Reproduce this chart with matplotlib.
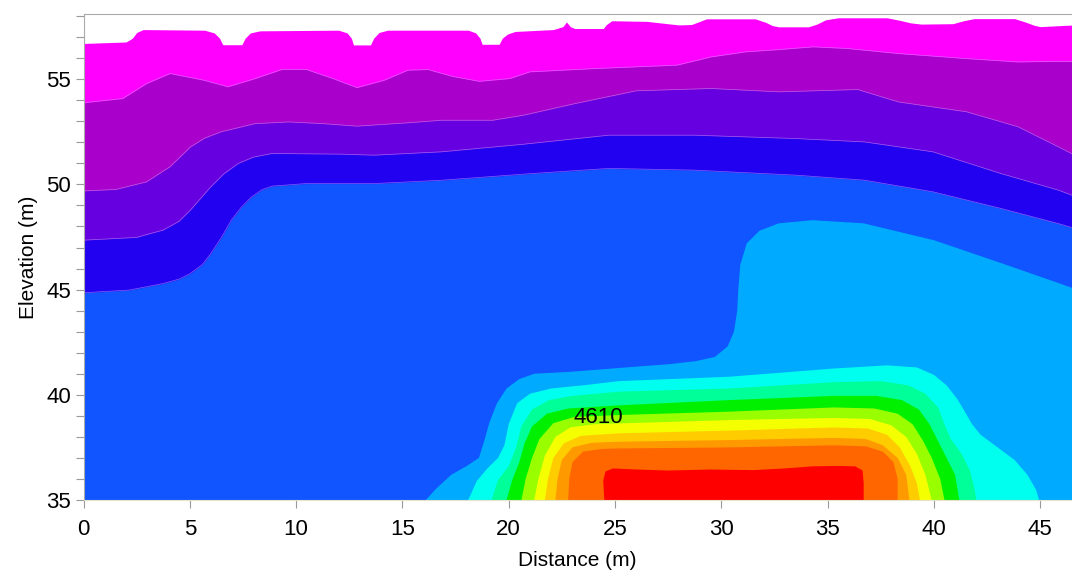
import matplotlib
matplotlib.use('Agg')
import matplotlib.pyplot as plt
from matplotlib.ticker import MultipleLocator

plt.rcParams['font.family'] = ['Liberation Sans', 'DejaVu Sans']

# ground surface (top of model)
surface_x = [0, 2.0, 2.3, 2.5, 2.8, 5.7, 6.15, 6.4, 6.55, 7.45, 7.6, 7.85, 8.3, 12.0, 12.4,
             12.6, 12.7, 13.5, 13.65, 13.9, 14.3, 18.1, 18.45, 18.65, 18.75, 19.55, 19.7, 19.95,
             20.3, 22.1, 22.55, 22.72, 22.9, 23.1, 24.45, 24.6, 24.85, 26.5, 28.0, 28.6, 29.0,
             29.3, 31.6, 32.1, 32.4, 32.7, 34.1, 34.5, 34.9, 35.5, 37.8, 38.4, 38.9, 39.4, 40.9,
             41.4, 41.9, 43.8, 44.3, 44.7, 45.0, 47.0]
surface_y = [56.7, 56.77, 56.95, 57.22, 57.36, 57.33, 57.2, 56.95, 56.64, 56.64, 56.95, 57.2,
             57.3, 57.33, 57.2, 56.95, 56.63, 56.63, 56.95, 57.22, 57.33, 57.33, 57.2, 56.95, 56.66,
             56.66, 56.95, 57.15, 57.27, 57.36, 57.5, 57.72, 57.5, 57.41, 57.41, 57.6, 57.78, 57.75,
             57.58, 57.6, 57.75, 57.87, 57.87, 57.7, 57.55, 57.49, 57.49, 57.62, 57.82, 57.92, 57.92,
             57.8, 57.68, 57.62, 57.64, 57.78, 57.88, 57.88, 57.72, 57.57, 57.5, 57.6]

# layer boundaries, top to bottom
b1_x = [0, 1.84, 2.96, 4.07, 5.67, 6.79, 8.07, 9.35, 10.46, 11.74, 12.86, 14.14, 15.26, 16.21,
        17.33, 18.61, 20.05, 21.0, 23.91, 27.92, 29.52, 31.13, 32.73, 34.33, 35.94, 38.34, 41.55,
        43.96, 45.85, 47.0]
b1_y = [53.88, 54.08, 54.79, 55.27, 54.95, 54.64, 55.03, 55.47, 55.47, 55.03, 54.6, 54.95, 55.43,
        55.46, 55.14, 54.9, 55.03, 55.35, 55.5, 55.67, 56.06, 56.3, 56.41, 56.54, 56.46, 56.22,
        55.98, 55.82, 55.85, 55.85]

b2_x = [0, 1.52, 2.96, 4.07, 5.03, 5.7, 6.47, 8.07, 9.66, 11.26, 12.86, 15.26, 16.85, 19.25, 20.7,
        23.11, 26.0, 29.52, 32.73, 36.42, 38.34, 41.55, 43.96, 45.85, 47.0]
b2_y = [49.69, 49.76, 50.12, 50.84, 51.78, 52.2, 52.5, 52.89, 52.97, 52.89, 52.77, 52.93, 53.05,
        53.05, 53.29, 53.84, 54.45, 54.56, 54.4, 54.51, 53.92, 53.45, 52.74, 51.79, 51.2]

b3_x = [0, 2.48, 3.75, 4.5, 5.03, 5.99, 6.6, 7.27, 8.0, 8.87, 12.06, 13.66, 16.85, 20.7, 24.71,
        28.72, 33.53, 36.74, 39.95, 43.15, 45.85, 47.0]
b3_y = [47.35, 47.48, 47.83, 48.25, 48.78, 49.89, 50.5, 50.99, 51.3, 51.47, 51.44, 51.39, 51.55,
        51.91, 52.34, 52.34, 52.18, 52.02, 51.55, 50.52, 49.73, 49.3]

b4_x = [0, 2.16, 3.75, 4.5, 5.03, 5.6, 5.99, 6.5, 6.95, 7.45, 7.91, 8.4, 8.87, 10.46, 13.66,
        16.85, 21.13, 24.71, 28.72, 33.53, 36.74, 39.95, 43.15, 45.85, 47.0]
b4_y = [44.85, 44.98, 45.29, 45.5, 45.77, 46.2, 46.72, 47.5, 48.3, 48.95, 49.41, 49.75, 49.92,
        50.04, 50.04, 50.2, 50.52, 50.76, 50.68, 50.44, 50.2, 49.65, 48.86, 48.14, 47.8]

# closed contours of the deep high-velocity zone, outer to inner
lblue_x = [16.1, 16.6, 17.3, 18.0, 18.6, 18.85, 19.1, 19.45, 19.9, 20.5, 21.2, 23.0, 25.5, 27.5,
           28.8, 29.7, 30.3, 30.6, 30.75, 30.8, 30.9, 31.2, 31.8, 32.7, 34.3, 36.7, 40.0, 43.2,
           45.9, 47.0, 47.0]
lblue_y = [35.0, 35.55, 36.2, 36.6, 37.0, 37.8, 38.7, 39.6, 40.3, 40.75, 41.0, 41.1, 41.3, 41.45,
           41.6, 41.8, 42.3, 43.0, 44.0, 45.0, 46.2, 47.2, 47.8, 48.15, 48.3, 48.15, 47.35, 46.25,
           45.3, 44.9, 35.0]

cyan_x = [18.1, 18.5, 19.0, 19.5, 19.8, 20.0, 20.4, 21.0, 22.0, 23.5, 25.2, 30.4, 35.3, 37.8,
          39.2, 40.0, 40.6, 41.1, 41.4, 41.8, 42.2, 43.0, 43.8, 44.4, 44.8, 44.95]
cyan_y = [35.0, 35.9, 36.5, 37.0, 37.6, 38.6, 39.6, 40.05, 40.3, 40.45, 40.65, 40.86, 41.25, 41.4,
          41.3, 40.95, 40.45, 39.8, 39.3, 38.6, 38.1, 37.5, 36.9, 36.2, 35.5, 35.0]

mint_x = [19.2, 19.5, 20.0, 20.35, 20.6, 21.1, 21.9, 23.0, 25.2, 30.4, 35.3, 37.5, 38.8, 39.6,
          40.2, 40.5, 40.8, 41.3, 41.7, 41.9, 42.0]
mint_y = [35.0, 35.95, 36.6, 37.5, 38.5, 39.3, 39.75, 39.95, 40.15, 40.3, 40.6, 40.65, 40.45,
          40.05, 39.4, 38.6, 37.9, 37.2, 36.4, 35.6, 35.0]

green_x = [19.9, 20.15, 20.5, 20.75, 21.1, 21.8, 22.8, 25.2, 30.4, 35.3, 37.3, 38.5, 39.3, 39.8,
           40.2, 40.6, 41.0, 41.2]
green_y = [35.0, 35.9, 36.8, 37.7, 38.5, 39.1, 39.35, 39.5, 39.75, 39.95, 39.95, 39.75, 39.3,
           38.6, 37.8, 37.0, 36.2, 35.0]

lime_x = [20.6, 20.8, 21.1, 21.45, 22.1, 23.1, 25.2, 30.4, 35.3, 37.2, 38.3, 39.0, 39.5, 39.9,
          40.3, 40.5]
lime_y = [35.0, 36.0, 37.0, 37.9, 38.65, 38.95, 39.04, 39.2, 39.4, 39.35, 39.1, 38.6, 37.8, 37.0,
          36.0, 35.0]

yellow_x = [21.2, 21.4, 21.7, 22.2, 22.9, 24.0, 25.2, 30.4, 35.3, 37.0, 38.0, 38.7, 39.2, 39.6, 39.9]
yellow_y = [35.0, 36.0, 37.1, 38.0, 38.45, 38.6, 38.64, 38.8, 38.9, 38.85, 38.55, 38.0, 37.2, 36.2,
            35.0]

gold_x = [21.7, 21.85, 22.1, 22.6, 23.4, 25.2, 30.4, 35.3, 36.9, 37.8, 38.4, 38.9, 39.2, 39.35]
gold_y = [35.0, 36.0, 37.0, 37.7, 38.05, 38.17, 38.3, 38.45, 38.4, 38.1, 37.5, 36.6, 35.8, 35.0]

orange_x = [22.2, 22.3, 22.5, 23.0, 23.9, 25.2, 30.4, 35.3, 36.8, 37.6, 38.3, 38.7, 38.85]
orange_y = [35.0, 36.0, 36.9, 37.5, 37.72, 37.77, 37.85, 37.95, 37.9, 37.6, 37.0, 36.2, 35.0]

ored_x = [22.8, 22.85, 23.0, 23.5, 24.4, 25.2, 30.4, 35.3, 36.8, 37.6, 38.1, 38.3, 38.3]
ored_y = [35.0, 36.0, 36.8, 37.3, 37.43, 37.45, 37.5, 37.6, 37.55, 37.3, 36.8, 36.0, 35.0]

red_x = [24.5, 24.45, 24.55, 24.9, 26.0, 27.5, 29.5, 31.5, 33.0, 34.3, 35.5, 36.3, 36.65, 36.7, 36.7]
red_y = [35.0, 35.9, 36.35, 36.5, 36.45, 36.4, 36.45, 36.42, 36.5, 36.6, 36.62, 36.6, 36.4, 35.8,
         35.0]

label_text = '4610'
label_x, label_y = 24.2, 38.9

fig = plt.figure(figsize=(10.72, 5.73), dpi=100)
ax = fig.add_axes([83.5 / 1072, 73 / 573, 988.5 / 1072, 486 / 573])

base = 35
ax.fill_between(surface_x, base, surface_y, color='#ff00ff', lw=0)
ax.fill_between(b1_x, base, b1_y, color='#aa00cc', lw=0)
ax.fill_between(b2_x, base, b2_y, color='#6600e0', lw=0)
ax.fill_between(b3_x, base, b3_y, color='#2200f0', lw=0)
ax.fill_between(b4_x, base, b4_y, color='#1055ff', lw=0)
# faint seams between the upper layers
for bx, by in [(b1_x, b1_y), (b2_x, b2_y), (b3_x, b3_y), (b4_x, b4_y)]:
    ax.plot(bx, by, color='#c8a0ff', lw=0.5, alpha=0.6)

zones = [(lblue_x, lblue_y, '#00aaff'), (cyan_x, cyan_y, '#00ffee'), (mint_x, mint_y, '#00ff99'),
         (green_x, green_y, '#00f000'), (lime_x, lime_y, '#99ff00'), (yellow_x, yellow_y, '#f4ff00'),
         (gold_x, gold_y, '#ffcc00'), (orange_x, orange_y, '#ff9900'), (ored_x, ored_y, '#ff6600'),
         (red_x, red_y, '#ff0000')]
for zx, zy, c in zones:
    ax.fill(zx, zy, color=c, lw=0)

ax.text(label_x, label_y, label_text, fontsize=16, ha='center', va='center', color='black')

ax.set_xlim(0, 46.5)
ax.set_ylim(35, 58.1)
ax.xaxis.set_major_locator(MultipleLocator(5))
ax.yaxis.set_major_locator(MultipleLocator(5))
ax.yaxis.set_minor_locator(MultipleLocator(1))
ax.tick_params(axis='both', which='both', direction='out', length=6, width=0.8,
               color='#999999', labelsize=16)
ax.tick_params(axis='x', pad=8)
ax.tick_params(axis='y', pad=3)

for s in ['left', 'top']:
    ax.spines[s].set_color('#aaaaaa')
ax.spines['bottom'].set_color('#e6e2cc')
ax.spines['right'].set_visible(False)

ax.set_xlabel('Distance (m)', fontsize=15)
ax.set_ylabel('Elevation (m)', fontsize=15)
ax.xaxis.set_label_coords(0.5, -0.105)
ax.yaxis.set_label_coords(-0.046, 0.5)

plt.savefig('out.png', dpi=100)
